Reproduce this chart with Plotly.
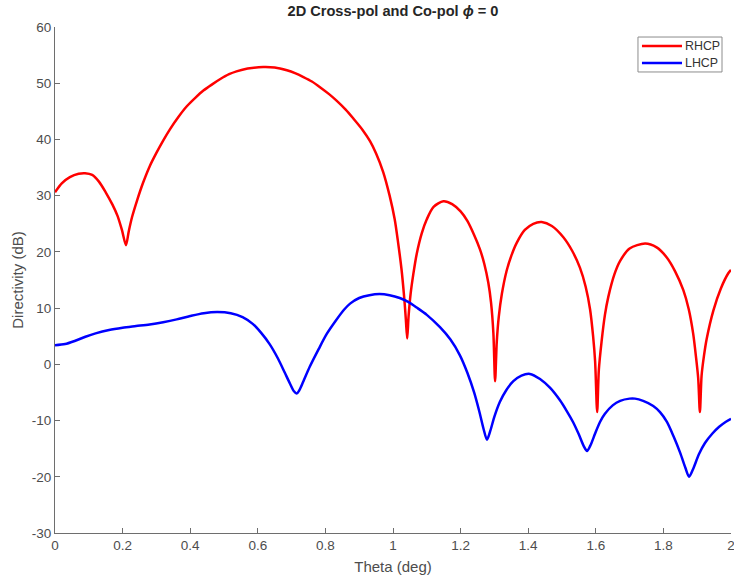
import plotly.graph_objects as go

# RHCP (co-pol) directivity versus theta
theta_rhcp = [0.0, 0.02, 0.044, 0.07, 0.089, 0.11, 0.13, 0.15, 0.17, 0.185, 0.198, 0.21,
              0.218, 0.228, 0.242, 0.26, 0.28, 0.30, 0.32, 0.34, 0.365, 0.39, 0.415, 0.439,
              0.465, 0.488, 0.515, 0.537, 0.57, 0.616, 0.65, 0.686, 0.71, 0.735, 0.76,
              0.784, 0.81, 0.833, 0.86, 0.883, 0.91, 0.932, 0.95, 0.971, 0.99, 1.005,
              1.015, 1.025, 1.033, 1.038, 1.042, 1.046, 1.052, 1.06, 1.07, 1.085, 1.10,
              1.12, 1.149, 1.175, 1.20, 1.22, 1.24, 1.257, 1.27, 1.282, 1.29, 1.297,
              1.302, 1.307, 1.313, 1.322, 1.336, 1.35, 1.366, 1.39, 1.415, 1.44, 1.47,
              1.504, 1.53, 1.553, 1.57, 1.583, 1.592, 1.598, 1.604, 1.609, 1.617, 1.627,
              1.637, 1.655, 1.672, 1.70, 1.746, 1.78, 1.81, 1.835, 1.859, 1.875, 1.888,
              1.897, 1.903, 1.908, 1.913, 1.92, 1.928, 1.948, 1.97, 1.992, 2.0]
rhcp_db = [30.6, 32.2, 33.3, 33.9, 34.0, 33.7, 32.5, 30.6, 28.4, 26.4, 23.9, 21.2,
           23.6, 26.2, 29.0, 32.2, 35.2, 37.6, 39.8, 41.8, 44.0, 45.9, 47.4, 48.7,
           49.8, 50.7, 51.6, 52.1, 52.6, 52.9, 52.8, 52.3, 51.8, 51.1, 50.3,
           49.3, 48.1, 46.9, 45.3, 43.7, 41.7, 39.7, 37.5, 34.2, 30.0, 25.8,
           21.7, 17.0, 12.0, 8.0, 4.6, 8.5, 12.5, 16.0, 19.6, 23.3, 25.8,
           28.0, 29.0, 28.5, 27.2, 25.5, 23.0, 20.5, 17.9, 14.5, 11.0, 5.5,
           -3.0, 4.0, 8.5, 12.5, 16.6, 19.3, 21.6, 23.9, 25.0, 25.3, 24.6,
           22.6, 20.2, 17.2, 13.8, 9.8, 5.0, 0.5, -8.5, -1.0, 4.0, 8.8,
           12.0, 16.0, 18.4, 20.6, 21.5, 20.8, 19.0, 16.5, 13.2, 9.8, 5.5,
           1.0, -2.5, -8.5, -2.0, 1.5, 4.5, 9.6, 13.5, 16.2, 16.8]

# LHCP (cross-pol) directivity versus theta
theta_lhcp = [0.0, 0.03, 0.06, 0.09, 0.12, 0.16, 0.2, 0.24, 0.28, 0.32, 0.36, 0.40,
              0.44, 0.48, 0.52, 0.555, 0.585, 0.61, 0.635, 0.66, 0.68, 0.695, 0.707,
              0.715, 0.723, 0.735, 0.754, 0.78, 0.804, 0.83, 0.855, 0.873, 0.90, 0.93,
              0.96, 0.99, 1.02, 1.045, 1.07, 1.10, 1.139, 1.17, 1.198, 1.22, 1.24,
              1.255, 1.268, 1.278, 1.288, 1.30, 1.316, 1.335, 1.356, 1.38, 1.405,
              1.435, 1.465, 1.494, 1.515, 1.533, 1.55, 1.564, 1.574, 1.585, 1.598,
              1.612, 1.627, 1.65, 1.672, 1.70, 1.716, 1.74, 1.77, 1.79, 1.81, 1.83,
              1.85, 1.865, 1.876, 1.888, 1.905, 1.923, 1.945, 1.965, 1.985, 2.0]
lhcp_db = [3.4, 3.6, 4.2, 4.9, 5.5, 6.1, 6.5, 6.8, 7.1, 7.5, 8.0, 8.6,
           9.1, 9.3, 9.1, 8.4, 7.2, 5.6, 3.6, 1.0, -1.5, -3.4, -4.8,
           -5.2, -4.6, -3.0, -0.4, 2.7, 5.4, 7.7, 9.7, 10.8, 11.8, 12.3,
           12.5, 12.3, 11.8, 11.1, 10.1, 8.8, 6.6, 4.4, 1.6, -1.5, -5.0,
           -8.3, -11.5, -13.4, -11.8, -9.3, -6.7, -4.6, -3.0, -2.0, -1.7,
           -2.6, -4.2, -6.4, -8.4, -10.3, -12.5, -14.5, -15.4, -14.3, -12.3,
           -10.3, -8.8, -7.3, -6.5, -6.1, -6.1, -6.5, -7.4, -8.5, -10.2, -12.8,
           -15.8, -18.4, -20.0, -18.6, -16.0, -14.0, -12.3, -11.1, -10.2, -9.7]

x_ticks = [0, 0.2, 0.4, 0.6, 0.8, 1.0, 1.2, 1.4, 1.6, 1.8, 2.0]
x_tick_text = ["0", "0.2", "0.4", "0.6", "0.8", "1", "1.2", "1.4", "1.6", "1.8", "2"]
y_ticks = [-30, -20, -10, 0, 10, 20, 30, 40, 50, 60]
y_tick_text = ["-30", "-20", "-10", "0", "10", "20", "30", "40", "50", "60"]

series_names = ["RHCP", "LHCP"]
series_colors = ["#ff0000", "#0000ff"]

font_family = "Liberation Sans, Arial, sans-serif"
axis_color = "#6e6e6e"
label_color = "#4d4d4d"

fig = go.Figure()
for name, color, xs, ys in zip(series_names, series_colors,
                               [theta_rhcp, theta_lhcp], [rhcp_db, lhcp_db]):
    fig.add_trace(go.Scatter(x=xs, y=ys, mode="lines", name=name, showlegend=False,
                             line=dict(color=color, width=2.5, shape="spline", smoothing=0.8)))

axis_common = dict(showline=True, linecolor=axis_color, linewidth=1, mirror=False,
                   ticks="inside", ticklen=5, tickcolor=axis_color, showgrid=False,
                   zeroline=False, ticklabeloverflow="allow", automargin=False,
                   tickfont=dict(family=font_family, size=13.5, color=label_color))

# Compact boxed legend in the upper right corner (paper coordinates)
legend_box = dict(x0=0.8624, x1=0.9867, y0=0.9111, y1=0.9802)
shapes = [dict(type="rect", xref="paper", yref="paper", line=dict(color="#8c8c8c", width=1),
               fillcolor="white", layer="above", **legend_box)]
annotations = []
row_y = [0.9625, 0.9289]
for name, color, yy in zip(series_names, series_colors, row_y):
    shapes.append(dict(type="line", xref="paper", yref="paper", x0=0.8683, x1=0.9275,
                       y0=yy, y1=yy, line=dict(color=color, width=2.5), layer="above"))
    annotations.append(dict(text=name, xref="paper", yref="paper", x=0.9285, y=yy,
                            xanchor="left", yanchor="middle", showarrow=False,
                            font=dict(family=font_family, size=12.4, color="#333333")))

fig.update_layout(
    width=734, height=581,
    margin=dict(l=55, r=3, t=27, b=48),
    paper_bgcolor="white", plot_bgcolor="white",
    title=dict(text="<b>2D Cross-pol and Co-pol <i>ϕ</i> = 0</b>", x=0.5, xanchor="center",
               xref="paper", y=0.982, yanchor="middle",
               font=dict(family=font_family, size=14.6, color="#262626")),
    xaxis=dict(range=[0, 2], tickvals=x_ticks, ticktext=x_tick_text,
               title=dict(text="Theta (deg)", standoff=9,
                          font=dict(family=font_family, size=15, color=label_color)),
               **axis_common),
    yaxis=dict(range=[-30, 60], tickvals=y_ticks, ticktext=y_tick_text,
               title=dict(text="Directivity (dB)", standoff=4,
                          font=dict(family=font_family, size=15, color=label_color)),
               **axis_common),
    shapes=shapes,
    annotations=annotations,
    showlegend=False,
)

fig.write_html("out.html")
